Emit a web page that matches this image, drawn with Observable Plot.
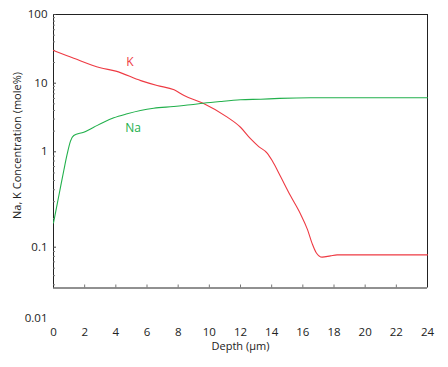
<!DOCTYPE html>
<html><head><meta charset="utf-8">
<script src="https://cdn.jsdelivr.net/npm/d3@7"></script>
<script src="https://cdn.jsdelivr.net/npm/@observablehq/plot@0.6"></script>
<style>body{margin:0;background:#fff} #chart svg{display:block}</style>
</head><body><div id="chart"></div>
<script>
// K profile
const kDepth = [0, 1.3, 3.0, 4.0, 5.6, 6.65, 7.74, 8.38, 9.6, 11.15, 12.0, 12.64, 13.17, 13.71, 14.03, 14.57, 15.2, 15.85, 16.3, 16.6, 16.85, 17.24, 17.77, 18.2, 24];
const kConc  = [30, 23.1, 16.8, 15.0, 10.9, 9.25, 8.0, 6.6, 5.1, 3.2, 2.28, 1.55, 1.19, 0.97, 0.81, 0.551, 0.348, 0.223, 0.153, 0.109, 0.088, 0.0785, 0.081, 0.083, 0.083];
// Na profile
const naDepth = [0, 0.24, 0.45, 0.66, 0.88, 1.09, 1.3, 1.94, 2.58, 3.22, 3.87, 4.73, 5.58, 6.43, 7.7, 8.8, 9.6, 10.7, 12.0, 13.3, 14.5, 16.5, 24];
const naConc  = [0.18, 0.285, 0.426, 0.637, 0.95, 1.43, 1.73, 1.93, 2.28, 2.7, 3.13, 3.58, 4.0, 4.32, 4.57, 4.84, 5.1, 5.41, 5.73, 5.84, 6.0, 6.13, 6.13];

const xTicks = [0, 2, 4, 6, 8, 10, 12, 14, 16, 18, 20, 22, 24];
const xInnerTicks = [2, 4, 6, 8, 10, 12, 14, 16, 18, 20, 22];
const yTicks = [0.01, 0.1, 1, 10, 100];
const yBreaks = [0.01, 0.037, 0.1, 1, 10, 100];
const seriesNames = ["K", "Na"];
const labelDepth = [4.9, 5.1];
const labelConc = [20, 2.2];
const colors = ["#ee3a43", "#22b04c"];

const minorTicks = [];
for (const p of [-2, -1, 0, 1]) for (let m = 2; m <= 9; m++) {
  const v = +(m * Math.pow(10, p)).toPrecision(3);
  if (v >= 0.04) minorTicks.push(v);
}
const frameLow = yBreaks[1], frameHigh = yBreaks[yBreaks.length - 1];

const chart = Plot.plot({
  width: 448,
  height: 367,
  marginLeft: 53,
  marginRight: 21,
  marginTop: 14,
  marginBottom: 49,
  style: {fontFamily: "'Open Sans', sans-serif", fontSize: "11px", color: "#222", background: "#fff"},
  x: {domain: [0, 24]},
  y: {type: "log", domain: yBreaks, range: [318, 287.5, 246.7, 151.3, 82.7, 14]},
  marks: [
    // frame
    Plot.ruleY([frameLow, frameHigh], {stroke: "#222"}),
    Plot.ruleX([0, 24], {y1: frameLow, y2: frameHigh, stroke: "#222"}),
    // y axis labels
    Plot.axisY({ticks: yTicks, tickSize: 0, tickPadding: 6, tickFormat: d => String(d), fontSize: 11.5}),
    Plot.axisY({ticks: yTicks.filter(v => v >= 0.04), tickSize: 3, dx: 3, text: null, stroke: "#444"}),
    Plot.axisY({ticks: minorTicks, tickSize: 2, dx: 2, text: null, stroke: "#777"}),
    // x axis
    Plot.axisX({ticks: xTicks, tickSize: 0, tickPadding: 9, fontSize: 11.5, label: null}),
    Plot.axisX({ticks: xInnerTicks, tickSize: 3, dy: -33.5, text: null, stroke: "#777", label: null}),
    // titles
    Plot.text(["Depth (μm)"], {frameAnchor: "bottom", dy: 31, fontSize: 11, fill: "#222"}),
    Plot.text(["Na, K Concentration (mole%)"], {frameAnchor: "left", textAnchor: "middle", dx: -36, dy: -21, rotate: -90, fontSize: 11, fill: "#222"}),
    // data
    Plot.line(kConc, {x: kDepth, y: kConc, stroke: colors[0], strokeWidth: 1.1, curve: "monotone-x"}),
    Plot.line(naConc, {x: naDepth, y: naConc, stroke: colors[1], strokeWidth: 1.1, curve: "monotone-x"}),
    Plot.text(seriesNames, {x: labelDepth, y: labelConc, text: d => d, fill: (d, i) => colors[i], fontSize: 12})
  ]
});
document.getElementById("chart").append(chart);
</script>
</body></html>
